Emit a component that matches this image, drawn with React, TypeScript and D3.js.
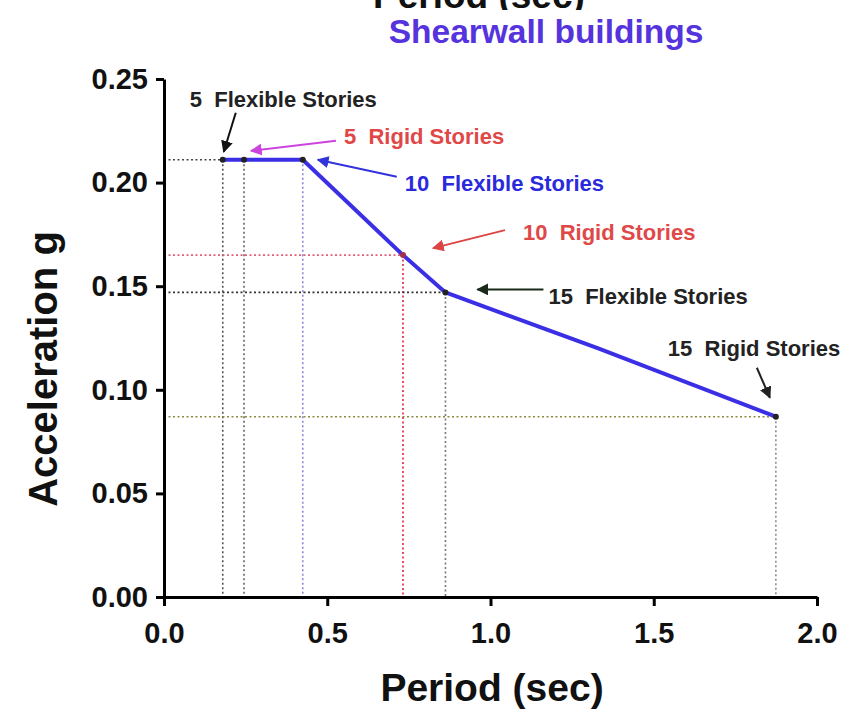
import React, { useRef, useEffect } from "react";
import * as d3 from "d3";

// measured points (period in sec, acceleration in g)
const periods = [0.18, 0.245, 0.425, 0.732, 0.862, 1.874];
const accels = [0.211, 0.211, 0.211, 0.165, 0.147, 0.087];
const pointLabels = [
  "5  Flexible Stories",
  "5  Rigid Stories",
  "10  Flexible Stories",
  "10  Rigid Stories",
  "15  Flexible Stories",
  "15  Rigid Stories",
];

// design spectrum curve
const curvePeriods = [0.18, 0.425, 0.732, 0.862, 1.33, 1.874];
const curveAccels = [0.211, 0.211, 0.165, 0.147, 0.12, 0.087];

const xTicks = [0, 0.5, 1.0, 1.5, 2.0];
const yTicks = [0, 0.05, 0.1, 0.15, 0.2, 0.25];

const W = 861;
const H = 714;
const FONT = "'Liberation Sans', Arial, Helvetica, sans-serif";

// label / guide styling per point
const styles = [
  { text: "#222", arrow: "#111", hLine: "#444", vLine: "#555", tx: -33, ty: -60, ax1: 13, ay1: -47, ax2: 1, ay2: -8 },
  { text: "#e04848", arrow: "#cc44dd", hLine: null, vLine: "#666", tx: 100, ty: -23, ax1: 92, ay1: -19, ax2: 7, ay2: -9 },
  { text: "#2a2adc", arrow: "#3333dd", hLine: null, vLine: "#8888dd", tx: 102, ty: 24, ax1: 94, ay1: 17, ax2: 15, ay2: 0 },
  { text: "#e04848", arrow: "#dd4444", hLine: "#e0607a", vLine: "#e02040", tx: 120, ty: -23, ax1: 102, ay1: -25, ax2: 30, ay2: -7 },
  { text: "#222", arrow: "#1a2a1a", hLine: "#333", vLine: "#777", tx: 103, ty: 4, ax1: 98, ay1: -3, ax2: 32, ay2: -3 },
  { text: "#222", arrow: "#222", hLine: "#8a8a40", vLine: "#889080", tx: -108, ty: -68, ax1: -19, ay1: -49, ax2: -6, ay2: -19 },
];

export default function App() {
  const xAxisRef = useRef<SVGGElement>(null);
  const yAxisRef = useRef<SVGGElement>(null);

  const x = d3.scaleLinear().domain([0, 2]).range([164, 817]);
  const y = d3.scaleLinear().domain([0, 0.25]).range([597, 79]);

  useEffect(() => {
    const gx = d3.select(xAxisRef.current!);
    gx.selectAll("*").remove();
    gx.call(d3.axisBottom(x).tickValues(xTicks).tickFormat(d3.format(".1f")).tickSize(9).tickSizeOuter(0).tickPadding(16));
    const gy = d3.select(yAxisRef.current!);
    gy.selectAll("*").remove();
    gy.call(d3.axisLeft(y).tickValues(yTicks).tickFormat(d3.format(".2f")).tickSize(8).tickSizeOuter(0).tickPadding(8));
    [gx, gy].forEach((g) => {
      g.select(".domain").attr("stroke", "#000").attr("stroke-width", 3);
      g.selectAll(".tick line").attr("stroke", "#000").attr("stroke-width", 3);
      g.selectAll(".tick text")
        .attr("fill", "#111")
        .style("font-family", FONT)
        .style("font-weight", "bold")
        .style("font-size", "29px");
    });
  }, []);

  const line = d3.line<number>().x((_, i) => x(curvePeriods[i])).y((d) => y(d));

  return (
    <svg width={W} height={H} style={{ position: "absolute", left: 0, top: 0, background: "#fff" }}>
      <defs>
        {styles.map((s, i) => (
          <marker key={i} id={`arr${i}`} viewBox="0 0 10 10" refX="9" refY="5" markerWidth="6" markerHeight="6" orient="auto">
            <path d="M0,0 L10,5 L0,10 z" fill={s.arrow} />
          </marker>
        ))}
      </defs>

      {/* cut-off label from the panel above */}
      <text x={373} y={8} fontFamily={FONT} fontWeight="bold" fontSize={37} fill="#111">Period (sec)</text>
      <rect x={0} y={10} width={W} height={50} fill="#fff" />
      <text x={546} y={43} textAnchor="middle" fontFamily={FONT} fontWeight="bold" fontSize={33.5} fill="#5533dd">
        Shearwall buildings
      </text>

      {/* guide lines */}
      {periods.map((p, i) => (
        <g key={i} fill="none" strokeWidth={1.6} strokeDasharray="2,2.5">
          {styles[i].hLine && <line x1={x(0)} x2={x(p)} y1={y(accels[i])} y2={y(accels[i])} stroke={styles[i].hLine!} />}
          <line x1={x(p)} x2={x(p)} y1={y(accels[i])} y2={y(0)} stroke={styles[i].vLine} />
        </g>
      ))}

      <path d={line(curveAccels) || ""} fill="none" stroke="#3b2fe6" strokeWidth={4} strokeLinejoin="round" />

      {periods.map((p, i) => (
        <circle key={i} cx={x(p)} cy={y(accels[i])} r={3} fill={i === 3 ? "#a03050" : "#222"} />
      ))}

      {/* annotations */}
      {periods.map((p, i) => {
        const s = styles[i];
        const px = x(p);
        const py = y(accels[i]);
        return (
          <g key={i}>
            <line x1={px + s.ax1} y1={py + s.ay1} x2={px + s.ax2} y2={py + s.ay2} stroke={s.arrow} strokeWidth={2} markerEnd={`url(#arr${i})`} />
            <text x={px + s.tx} y={py + s.ty + 7.5} fontFamily={FONT} fontWeight="bold" fontSize={22} fill={s.text} style={{ whiteSpace: "pre" }}>
              {pointLabels[i]}
            </text>
          </g>
        );
      })}

      <g ref={xAxisRef} transform={`translate(0,${y(0)})`} />
      <g ref={yAxisRef} transform={`translate(${x(0)},0)`} />

      <text x={492} y={701} textAnchor="middle" fontFamily={FONT} fontWeight="bold" fontSize={39} fill="#111">Period (sec)</text>
      <text transform={`translate(57,369) rotate(-90)`} textAnchor="middle" fontFamily={FONT} fontWeight="bold" fontSize={40} fill="#111">
        Acceleration g
      </text>
    </svg>
  );
}
